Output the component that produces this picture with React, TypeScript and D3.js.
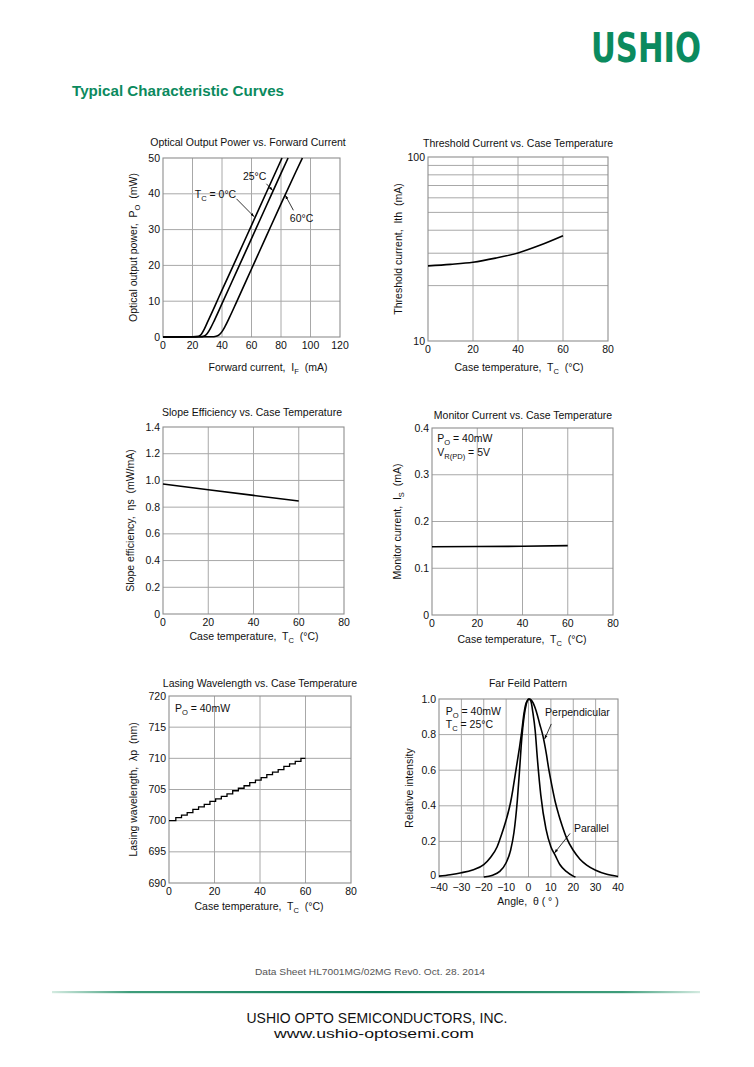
import React from 'react';
import * as d3 from 'd3';

type Pt = [number, number];

const FONT = '"Liberation Sans", Arial, Helvetica, sans-serif';
const GREEN = '#0b8a5e';
const GRID = '#a8a8a8';
const FRAME = '#8e8e8e';

// Optical output power vs forward current
const currentTicks = [0, 20, 40, 60, 80, 100, 120];
const powerTicks = [0, 10, 20, 30, 40, 50];
const power0C: Pt[] = [[0, 0], [20, 0.05], [24, 0.2], [26, 0.8], [28, 2.2], [30, 4.0], [35, 8.5], [40, 13.1], [50, 22.1], [60, 31.2], [70, 40.3], [80.7, 50]];
const power25C: Pt[] = [[0, 0], [25, 0.05], [28, 0.3], [30, 1.0], [32, 2.3], [35, 4.8], [40, 9.3], [50, 18.4], [60, 27.5], [70, 36.6], [80, 45.7], [84.8, 50]];
const power60C: Pt[] = [[0, 0], [33, 0.05], [36, 0.2], [38, 0.6], [40, 1.5], [42, 2.9], [45, 5.4], [50, 9.9], [60, 19.0], [70, 28.1], [80, 37.2], [90, 46.1], [94.5, 50]];

// Threshold current vs case temperature
const tempTicks = [0, 20, 40, 60, 80];
const ithTicks = [10, 100];
const ithGrid = [20, 30, 40, 50, 60, 70, 80, 90];
const ithCurve: Pt[] = [[0, 25.6], [10, 26.1], [20, 26.8], [30, 28.2], [40, 30.1], [50, 33.2], [60, 37.3]];

// Slope efficiency vs case temperature
const slopeTicks = [0, 0.2, 0.4, 0.6, 0.8, 1.0, 1.2, 1.4];
const slopeCurve: Pt[] = [[0, 0.973], [20, 0.93], [40, 0.888], [60, 0.846]];

// Monitor current vs case temperature
const monitorTicks = [0, 0.1, 0.2, 0.3, 0.4];
const monitorCurve: Pt[] = [[0, 0.146], [20, 0.1465], [40, 0.147], [60, 0.1485]];

// Lasing wavelength vs case temperature (mode hops)
const wavelengthTicks = [690, 695, 700, 705, 710, 715, 720];
const wavelengthSteps: Pt[] = [
  [0, 700.0], [3, 700.5], [5.5, 700.9], [8, 701.3], [10.5, 701.8], [13, 702.2], [15.5, 702.6], [18, 703.1],
  [20.5, 703.5], [23, 703.9], [25.5, 704.3], [28, 704.8], [30.5, 705.2], [33, 705.6], [35.5, 706.1], [38, 706.5],
  [40.5, 706.9], [43, 707.4], [45.5, 707.8], [48, 708.2], [50.5, 708.7], [53, 709.1], [55.5, 709.5], [58, 710.0], [60, 710.0],
];

// Far field pattern
const angleTicks = [-40, -30, -20, -10, 0, 10, 20, 30, 40];
const intensityTicks = [0, 0.2, 0.4, 0.6, 0.8, 1.0];
const parallelCurve: Pt[] = [
  [-20, 0], [-16, 0.01], [-13, 0.03], [-10, 0.08], [-8, 0.15], [-6.5, 0.25], [-5, 0.43], [-4, 0.6], [-3, 0.78], [-2, 0.9],
  [-1, 0.97], [0, 1.0], [1, 0.99], [2, 0.92], [3, 0.82], [4, 0.66], [5.5, 0.46], [7.8, 0.27], [10, 0.17], [12, 0.12],
  [14, 0.07], [17, 0.03], [20, 0.005], [21, 0],
];
const perpendicularCurve: Pt[] = [
  [-40, 0.005], [-35, 0.013], [-30, 0.024], [-25, 0.04], [-20, 0.07], [-17, 0.11], [-14, 0.17], [-12, 0.24], [-10, 0.32],
  [-8, 0.42], [-7, 0.49], [-6, 0.57], [-5, 0.65], [-4, 0.73], [-3, 0.82], [-2, 0.92], [-1, 0.98], [0.5, 1.0], [2, 0.98],
  [3.5, 0.93], [5, 0.86], [6.5, 0.79], [8, 0.69], [9, 0.61], [10.5, 0.51], [12, 0.42], [13.5, 0.35], [15, 0.29], [17, 0.22],
  [20, 0.15], [23, 0.1], [26, 0.067], [30, 0.038], [35, 0.015], [40, 0.003],
];

const fmtDec = (v: number) => (v === 0 ? '0' : v.toFixed(1));
const fmtInt = (v: number) => `${v}`;
const fmtAngle = (v: number) => (v < 0 ? `−${-v}` : `${v}`);

function withSub(before: string, sub: string, after: string) {
  return (
    <>
      {before}
      <tspan dy={2.5} fontSize="0.72em">{sub}</tspan>
      <tspan dy={-2.5}>{after}</tspan>
    </>
  );
}

interface Box { left: number; top: number; width: number; height: number }

interface PanelProps {
  box: Box;
  x: d3.ScaleLinear<number, number>;
  y: any;
  xTicks: number[];
  yTicks: number[];
  yGrid?: number[];
  xFmt: (v: number) => string;
  yFmt: (v: number) => string;
  xTickDy?: number;
  yTickDy?: number;
  title: string;
  titleX: number;
  titleY: number;
  xLabel: React.ReactNode;
  xLabelX: number;
  xLabelY: number;
  yLabel: React.ReactNode;
  yLabelX: number;
  children?: React.ReactNode;
}

function Panel(p: PanelProps) {
  const { box, x, y } = p;
  const bottom = box.top + box.height;
  const right = box.left + box.width;
  const grid = p.yGrid ?? p.yTicks;
  return (
    <g fontFamily={FONT} fontSize={10.5} fill="#111">
      {p.xTicks.slice(1, -1).map((t) => (
        <line key={'vx' + t} x1={x(t)} x2={x(t)} y1={box.top} y2={bottom} stroke={GRID} strokeWidth={1} />
      ))}
      {grid.filter((t) => y(t) > box.top + 0.5 && y(t) < bottom - 0.5).map((t) => (
        <line key={'hy' + t} x1={box.left} x2={right} y1={y(t)} y2={y(t)} stroke={GRID} strokeWidth={1} />
      ))}
      <rect x={box.left} y={box.top} width={box.width} height={box.height} fill="none" stroke={FRAME} strokeWidth={1.1} />
      {p.xTicks.map((t) => (
        <text key={'tx' + t} x={x(t)} y={bottom + (p.xTickDy ?? 12)} textAnchor="middle">{p.xFmt(t)}</text>
      ))}
      {p.yTicks.map((t, i) => (
        <text key={'ty' + t} x={box.left - 3} y={y(t) + (i === 0 && p.yTickDy != null ? p.yTickDy : 3.5)} textAnchor="end">
          {p.yFmt(t)}
        </text>
      ))}
      <text x={p.titleX} y={p.titleY} textAnchor="middle" style={{ whiteSpace: 'pre' }}>{p.title}</text>
      <text x={p.xLabelX} y={p.xLabelY} textAnchor="middle" style={{ whiteSpace: 'pre' }}>{p.xLabel}</text>
      <text
        transform={`translate(${p.yLabelX},${box.top + box.height / 2}) rotate(-90)`}
        textAnchor="middle"
        style={{ whiteSpace: 'pre' }}
      >
        {p.yLabel}
      </text>
      {p.children}
    </g>
  );
}

function linScales(box: Box, xd: [number, number], yd: [number, number]) {
  const x = d3.scaleLinear().domain(xd).range([box.left, box.left + box.width]);
  const y = d3.scaleLinear().domain(yd).range([box.top + box.height, box.top]);
  return { x, y };
}

function curvePath(x: any, y: any, pts: Pt[], curve: d3.CurveFactory = d3.curveMonotoneX) {
  return d3.line<Pt>().x((d) => x(d[0])).y((d) => y(d[1])).curve(curve)(pts) ?? '';
}

const CURVE = { fill: 'none', stroke: '#000', strokeWidth: 1.6 };

export default function App() {
  // panel boxes
  const b1: Box = { left: 163, top: 158, width: 177, height: 179 };
  const b2: Box = { left: 428, top: 157, width: 180, height: 184 };
  const b3: Box = { left: 163, top: 427, width: 181, height: 187 };
  const b4: Box = { left: 432, top: 428, width: 181, height: 187 };
  const b5: Box = { left: 169, top: 696, width: 182, height: 187 };
  const b6: Box = { left: 439, top: 699, width: 179, height: 178 };

  const s1 = linScales(b1, [0, 120], [0, 50]);
  const x2 = d3.scaleLinear().domain([0, 80]).range([b2.left, b2.left + b2.width]);
  const y2 = d3.scaleLog().domain([10, 100]).range([b2.top + b2.height, b2.top]);
  const s3 = linScales(b3, [0, 80], [0, 1.4]);
  const s4 = linScales(b4, [0, 80], [0, 0.4]);
  const s5 = linScales(b5, [0, 80], [690, 720]);
  const s6 = linScales(b6, [-40, 40], [0, 1]);

  const tempLabel = withSub('Case temperature,  T', 'C', '  (°C)');

  return (
    <svg
      width={754}
      height={1067}
      style={{ position: 'absolute', left: 0, top: 0, background: '#fff' }}
      fontFamily={FONT}
    >
      <defs>
        <marker id="arr" viewBox="0 0 10 10" refX={10} refY={5} markerWidth={5} markerHeight={5} orient="auto">
          <path d="M0,1.5 L10,5 L0,8.5 z" fill="#000" />
        </marker>
        <linearGradient id="rule" x1="0" x2="1" y1="0" y2="0">
          <stop offset="0" stopColor="#d4ebe1" />
          <stop offset="0.12" stopColor="#3f9d7b" />
          <stop offset="0.5" stopColor="#0a7a55" />
          <stop offset="0.88" stopColor="#3f9d7b" />
          <stop offset="1" stopColor="#d4ebe1" />
        </linearGradient>
      </defs>
      <rect x={0} y={0} width={754} height={1067} fill="#fff" />

      {/* header */}
      <text
        x={591}
        y={62}
        fontFamily='"DejaVu Sans Condensed", "DejaVu Sans", sans-serif'
        fontWeight="bold"
        fontSize={40}
        fill={GREEN}
        textLength={110}
        lengthAdjust="spacingAndGlyphs"
      >
        USHIO
      </text>
      <text x={72} y={96} fontSize={14.5} fontWeight="bold" fill={GREEN} textLength={212} lengthAdjust="spacingAndGlyphs">
        Typical Characteristic Curves
      </text>

      {/* 1: optical output power */}
      <Panel
        box={b1} x={s1.x} y={s1.y} xTicks={currentTicks} yTicks={powerTicks} xFmt={fmtInt} yFmt={fmtInt}
        title="Optical Output Power vs. Forward Current" titleX={248} titleY={146}
        xLabel={withSub('Forward current,  I', 'F', '  (mA)')} xLabelX={268} xLabelY={371}
        yLabel={withSub('Optical output power,  P', 'O', '  (mW)')} yLabelX={137}
      >
        <path d={curvePath(s1.x, s1.y, power0C)} {...CURVE} />
        <path d={curvePath(s1.x, s1.y, power25C)} {...CURVE} />
        <path d={curvePath(s1.x, s1.y, power60C)} {...CURVE} />
        <text x={s1.x(54.2)} y={s1.y(45.1) + 4}>25°C</text>
        <text x={s1.x(21.5)} y={s1.y(39.9) + 4}>{withSub('T', 'C', ' = 0°C')}</text>
        <text x={s1.x(86)} y={s1.y(33.2) + 4}>60°C</text>
        <line x1={s1.x(49.8)} y1={s1.y(38.6)} x2={s1.x(61.8)} y2={s1.y(33.6)} stroke="#000" strokeWidth={0.8} markerEnd="url(#arr)" />
        <line x1={s1.x(70.1)} y1={s1.y(42.8)} x2={s1.x(74.4)} y2={s1.y(40.9)} stroke="#000" strokeWidth={0.8} markerEnd="url(#arr)" />
        <line x1={s1.x(88.4)} y1={s1.y(35.4)} x2={s1.x(82.9)} y2={s1.y(39.6)} stroke="#000" strokeWidth={0.8} markerEnd="url(#arr)" />
      </Panel>

      {/* 2: threshold current */}
      <Panel
        box={b2} x={x2} y={y2} xTicks={tempTicks} yTicks={ithTicks} yGrid={ithGrid} xFmt={fmtInt} yFmt={fmtInt}
        title="Threshold Current vs. Case Temperature" titleX={518} titleY={147}
        xLabel={tempLabel} xLabelX={519} xLabelY={371}
        yLabel="Threshold current,  Ith  (mA)" yLabelX={402}
      >
        <path d={curvePath(x2, y2, ithCurve)} {...CURVE} />
      </Panel>

      {/* 3: slope efficiency */}
      <Panel
        box={b3} x={s3.x} y={s3.y} xTicks={tempTicks} yTicks={slopeTicks} xFmt={fmtInt} yFmt={fmtDec}
        title="Slope Efficiency vs. Case Temperature" titleX={252} titleY={416}
        xLabel={tempLabel} xLabelX={254} xLabelY={640}
        yLabel="Slope efficiency,  ηs  (mW/mA)" yLabelX={134}
      >
        <path d={curvePath(s3.x, s3.y, slopeCurve, d3.curveLinear)} {...CURVE} />
      </Panel>

      {/* 4: monitor current */}
      <Panel
        box={b4} x={s4.x} y={s4.y} xTicks={tempTicks} yTicks={monitorTicks} xFmt={fmtInt} yFmt={fmtDec}
        title="Monitor Current vs. Case Temperature" titleX={523} titleY={419}
        xLabel={tempLabel} xLabelX={522} xLabelY={643}
        yLabel={withSub('Monitor current,  I', 'S', '  (mA)')} yLabelX={401}
      >
        <path d={curvePath(s4.x, s4.y, monitorCurve, d3.curveLinear)} {...CURVE} />
        <text x={s4.x(2.3)} y={s4.y(0.37)}>{withSub('P', 'O', ' = 40mW')}</text>
        <text x={s4.x(2.3)} y={s4.y(0.34)}>{withSub('V', 'R(PD)', ' = 5V')}</text>
      </Panel>

      {/* 5: lasing wavelength */}
      <Panel
        box={b5} x={s5.x} y={s5.y} xTicks={tempTicks} yTicks={wavelengthTicks} xFmt={fmtInt} yFmt={fmtInt}
        title="Lasing Wavelength vs. Case Temperature" titleX={260} titleY={687}
        xLabel={tempLabel} xLabelX={259} xLabelY={910}
        yLabel="Lasing wavelength,  λp  (nm)" yLabelX={137}
      >
        <path d={curvePath(s5.x, s5.y, wavelengthSteps, d3.curveStepAfter)} fill="none" stroke="#000" strokeWidth={1.3} />
        <text x={s5.x(2.6)} y={s5.y(717.4)}>{withSub('P', 'O', ' = 40mW')}</text>
      </Panel>

      {/* 6: far field pattern */}
      <Panel
        box={b6} x={s6.x} y={s6.y} xTicks={angleTicks} yTicks={intensityTicks} xFmt={fmtAngle} yFmt={fmtDec}
        xTickDy={14} yTickDy={1.5}
        title="Far Feild Pattern" titleX={528} titleY={687}
        xLabel="Angle,  θ ( ° )" xLabelX={528} xLabelY={905}
        yLabel="Relative intensity" yLabelX={413}
      >
        <path d={curvePath(s6.x, s6.y, perpendicularCurve)} {...CURVE} />
        <path d={curvePath(s6.x, s6.y, parallelCurve)} {...CURVE} />
        <text x={s6.x(-37)} y={s6.y(0.91)}>{withSub('P', 'O', ' = 40mW')}</text>
        <text x={s6.x(-37)} y={s6.y(0.837)}>{withSub('T', 'C', ' = 25°C')}</text>
        <text x={s6.x(7.4)} y={s6.y(0.905)}>Perpendicular</text>
        <text x={s6.x(20.3)} y={s6.y(0.255)}>Parallel</text>
        <line x1={s6.x(10.2)} y1={s6.y(0.86)} x2={s6.x(7.2)} y2={s6.y(0.775)} stroke="#000" strokeWidth={0.8} markerEnd="url(#arr)" />
        <line x1={s6.x(18.6)} y1={s6.y(0.245)} x2={s6.x(11.6)} y2={s6.y(0.135)} stroke="#000" strokeWidth={0.8} markerEnd="url(#arr)" />
      </Panel>

      {/* footer */}
      <text x={370} y={975} fontSize={9.5} fill="#555" textAnchor="middle" textLength={230} lengthAdjust="spacingAndGlyphs">
        Data Sheet HL7001MG/02MG Rev0. Oct. 28. 2014
      </text>
      <rect x={52} y={991} width={648} height={2.2} fill="url(#rule)" />
      <text x={377} y={1023} fontSize={15} fill="#111" textAnchor="middle" textLength={261} lengthAdjust="spacingAndGlyphs">
        USHIO OPTO SEMICONDUCTORS, INC.
      </text>
      <text x={374} y={1038} fontSize={13} fill="#111" textAnchor="middle" textLength={200} lengthAdjust="spacingAndGlyphs">
        www.ushio-optosemi.com
      </text>
    </svg>
  );
}
